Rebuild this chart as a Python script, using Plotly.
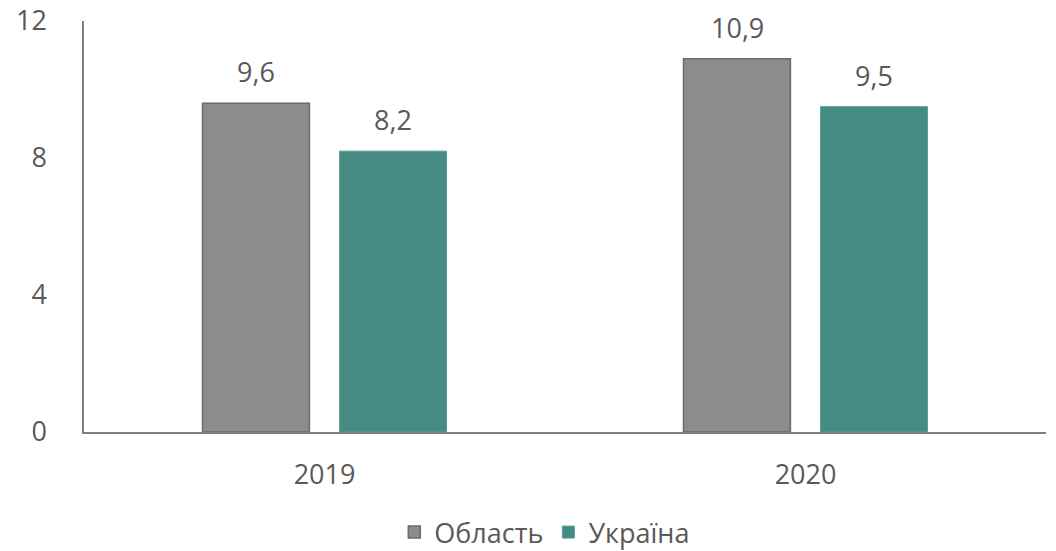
import plotly.graph_objects as go

years = ["2019", "2020"]
oblast = [9.6, 10.9]
ukraine = [8.2, 9.5]
series_names = ["Область", "Україна"]
y_ticks = [0, 4, 8, 12]

FONT = "Open Sans"
FS = 27
TXT = "#595959"
GREY = "#8c8c8c"
TEAL = "#468b83"

fig = go.Figure()
fig.add_bar(x=years, y=oblast, name=series_names[0],
            marker=dict(color=GREY, line=dict(color="#6b6b6b", width=1.5)))
fig.add_bar(x=years, y=ukraine, name=series_names[1],
            marker=dict(color=TEAL, line=dict(color="#5a9e95", width=1)))

# value labels above bars (x given as category index)
for vals, shift in ((oblast, -68.5), (ukraine, 68.5)):
    for i, v in enumerate(vals):
        fig.add_annotation(x=i, y=v, text=f"{v:.1f}".replace(".", ","),
                           showarrow=False, xshift=shift, yshift=11,
                           yanchor="bottom", font=dict(family=FONT, size=FS, color=TXT))

fig.update_layout(
    width=1056, height=551,
    margin=dict(l=84, r=10, t=21, b=119, autoexpand=False),
    paper_bgcolor="white", plot_bgcolor="white",
    barmode="group", bargap=0.43, bargroupgap=0.22,
    font=dict(family=FONT, size=FS, color=TXT),
    showlegend=True,
    legend=dict(orientation="h", x=0.479, xanchor="center", y=-0.185, yanchor="top",
                font=dict(family=FONT, size=FS, color=TXT), itemwidth=30,
                traceorder="normal"),
)
fig.update_yaxes(range=[0, 12], tickvals=y_ticks, showgrid=False, zeroline=False,
                 showline=True, linecolor="#808080", linewidth=1.5,
                 ticks="", ticklabelstandoff=30, automargin=False,
                 ticklabeloverflow="allow",
                 tickfont=dict(family=FONT, size=FS, color=TXT))
fig.update_xaxes(type="category", range=[-0.5, 1.5], showline=True, linecolor="#808080",
                 linewidth=1.5, ticks="", ticklabelstandoff=18, showgrid=False,
                 automargin=False, tickfont=dict(family=FONT, size=FS, color=TXT))

# remove the default 8px page margin so the figure fills the window exactly
fig.write_html("out.html", config={"displayModeBar": False},
               post_script="document.body.style.margin='0';")
